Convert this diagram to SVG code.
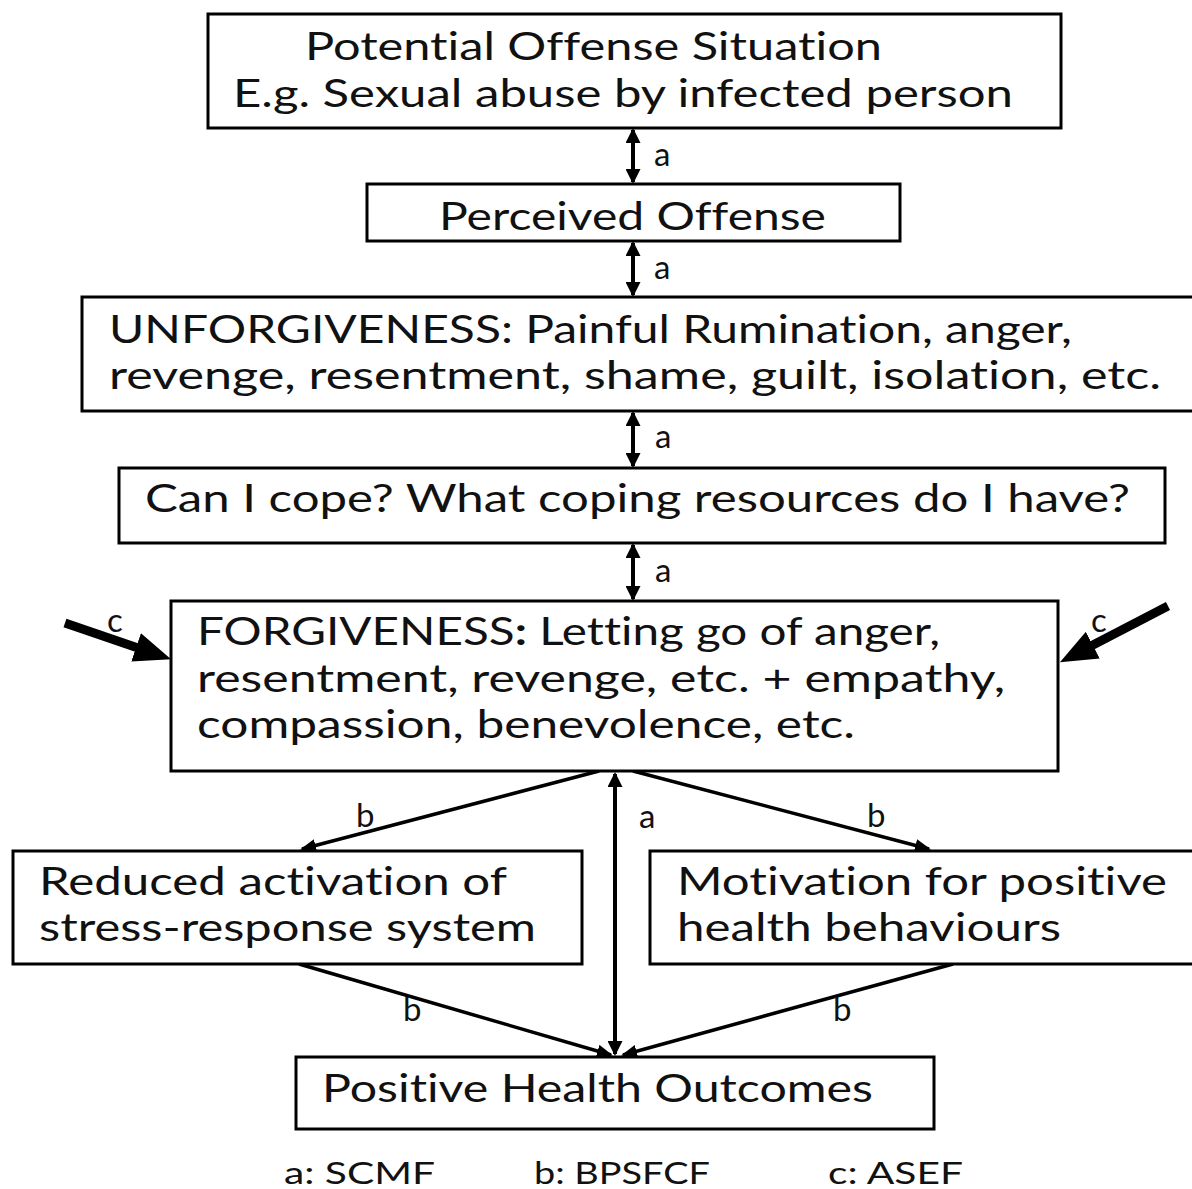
<svg xmlns="http://www.w3.org/2000/svg" width="1192" height="1189" viewBox="0 0 1192 1189">
  <style>
    text { font-variant-ligatures: none; }
    .box { fill: #ffffff; stroke: #000000; stroke-width: 3; }
    .txt { font-family: Lato, "Open Sans", "Liberation Sans", sans-serif; font-size: 38px; fill: #111111; }
    .lbl { font-family: Lato, "Open Sans", "Liberation Sans", sans-serif; font-size: 33px; fill: #111111; }
    .leg { font-family: Lato, "Open Sans", "Liberation Sans", sans-serif; font-size: 31px; fill: #111111; }
    .dbl { stroke: #000000; stroke-width: 4; fill: none; marker-start: url(#headA); marker-end: url(#headA); }
    .thin { stroke: #000000; stroke-width: 3.5; fill: none; marker-end: url(#headB); }
    .thick { stroke: #000000; stroke-width: 9; fill: none; marker-end: url(#headC); }
  </style>
  <defs>
    <marker id="headA" markerUnits="userSpaceOnUse" viewBox="0 0 15 15" markerWidth="15" markerHeight="15" refX="13" refY="7.5" orient="auto-start-reverse">
      <path d="M0,0 L15,7.5 L0,15 z" fill="#000000"/>
    </marker>
    <marker id="headB" markerUnits="userSpaceOnUse" viewBox="0 0 16 13" markerWidth="16" markerHeight="13" refX="14" refY="6.5" orient="auto">
      <path d="M0,0 L16,6.5 L0,13 z" fill="#000000"/>
    </marker>
    <marker id="headC" markerUnits="userSpaceOnUse" viewBox="0 0 38 32" markerWidth="38" markerHeight="32" refX="2" refY="16" orient="auto">
      <path d="M0,1 L37,16 L0,31 z" fill="#000000"/>
    </marker>
  </defs>

  <rect width="1192" height="1189" fill="#ffffff"/>

  <!-- connectors -->
  <g id="connectors">
    <line class="dbl" x1="633" y1="130" x2="633" y2="182"/>
    <line class="dbl" x1="633" y1="243" x2="633" y2="295"/>
    <line class="dbl" x1="633" y1="413" x2="633" y2="466"/>
    <line class="dbl" x1="633" y1="545" x2="633" y2="599"/>
    <line class="dbl" x1="615" y1="774" x2="615" y2="1054"/>
    <line class="thin" x1="599" y1="771" x2="302" y2="849"/>
    <line class="thin" x1="633" y1="771" x2="929" y2="849"/>
    <line class="thin" x1="299" y1="964" x2="611" y2="1055"/>
    <line class="thin" x1="953" y1="964" x2="623" y2="1055"/>
    <line class="thick" x1="65" y1="623" x2="138" y2="648"/>
    <line class="thick" x1="1168" y1="606" x2="1091" y2="646"/>
  </g>

  <!-- connector labels -->
  <g id="connector-labels">
    <text class="lbl" x="654" y="166">a</text>
    <text class="lbl" x="654" y="279">a</text>
    <text class="lbl" x="655" y="448">a</text>
    <text class="lbl" x="655" y="582">a</text>
    <text class="lbl" x="639" y="828">a</text>
    <text class="lbl" x="356" y="827">b</text>
    <text class="lbl" x="867" y="827">b</text>
    <text class="lbl" x="403" y="1021">b</text>
    <text class="lbl" x="833" y="1021">b</text>
    <text class="lbl" x="107" y="632">c</text>
    <text class="lbl" x="1091" y="632">c</text>
  </g>

  <g id="n-situation">
    <rect class="box" x="208" y="14" width="853" height="114"/>
    <text class="txt" x="305" y="60" textLength="577" lengthAdjust="spacingAndGlyphs">Potential Offense Situation</text>
    <text class="txt" x="233" y="107" textLength="780" lengthAdjust="spacingAndGlyphs">E.g. Sexual abuse by infected person</text>
  </g>

  <g id="n-perceived">
    <rect class="box" x="367" y="184" width="533" height="57"/>
    <text class="txt" x="439" y="230" textLength="387" lengthAdjust="spacingAndGlyphs">Perceived Offense</text>
  </g>

  <g id="n-unforgiveness">
    <rect class="box" x="82" y="297" width="1130" height="114"/>
    <text class="txt" x="109" y="343" textLength="963" lengthAdjust="spacingAndGlyphs">UNFORGIVENESS: Painful Rumination, anger,</text>
    <text class="txt" x="109" y="389" textLength="1052" lengthAdjust="spacingAndGlyphs">revenge, resentment, shame, guilt, isolation, etc.</text>
  </g>

  <g id="n-coping">
    <rect class="box" x="119" y="468" width="1046" height="75"/>
    <text class="txt" x="145" y="512" textLength="985" lengthAdjust="spacingAndGlyphs">Can I cope? What coping resources do I have?</text>
  </g>

  <g id="n-forgiveness">
    <rect class="box" x="171" y="601" width="887" height="170"/>
    <text class="txt" x="197" y="645" textLength="743" lengthAdjust="spacingAndGlyphs">FORGIVENESS<tspan font-weight="bold">:</tspan> Letting go of anger,</text>
    <text class="txt" x="197" y="692" textLength="808" lengthAdjust="spacingAndGlyphs">resentment, revenge, etc. + empathy,</text>
    <text class="txt" x="197" y="738" textLength="658" lengthAdjust="spacingAndGlyphs">compassion, benevolence, etc.</text>
  </g>

  <g id="n-stress">
    <rect class="box" x="13" y="851" width="569" height="113"/>
    <text class="txt" x="39" y="895" textLength="468" lengthAdjust="spacingAndGlyphs">Reduced activation of</text>
    <text class="txt" x="39" y="941" textLength="497" lengthAdjust="spacingAndGlyphs">stress-response system</text>
  </g>

  <g id="n-motivation">
    <rect class="box" x="650" y="851" width="560" height="113"/>
    <text class="txt" x="677" y="895" textLength="490" lengthAdjust="spacingAndGlyphs">Motivation for positive</text>
    <text class="txt" x="677" y="941" textLength="384" lengthAdjust="spacingAndGlyphs">health behaviours</text>
  </g>

  <g id="n-outcomes">
    <rect class="box" x="296" y="1057" width="638" height="72"/>
    <text class="txt" x="322" y="1102" textLength="551" lengthAdjust="spacingAndGlyphs">Positive Health Outcomes</text>
  </g>

  <!-- key to the connector letters -->
  <g id="legend">
    <text class="leg" x="284" y="1184" textLength="151" lengthAdjust="spacingAndGlyphs">a: SCMF</text>
    <text class="leg" x="534" y="1184" textLength="176" lengthAdjust="spacingAndGlyphs">b: BPSFCF</text>
    <text class="leg" x="828" y="1184" textLength="135" lengthAdjust="spacingAndGlyphs">c: ASEF</text>
  </g>
</svg>
